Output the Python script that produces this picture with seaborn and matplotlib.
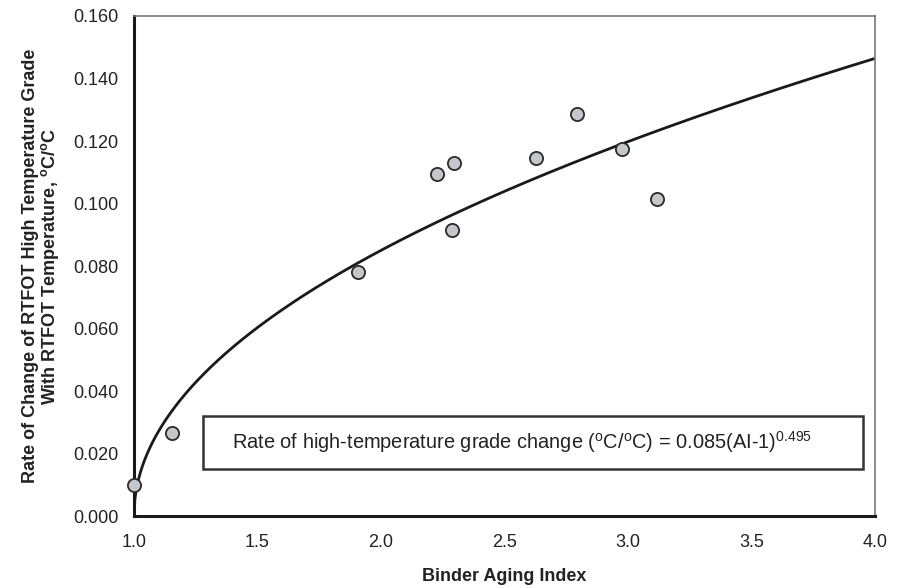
import numpy as np
import pandas as pd
import matplotlib
matplotlib.use("Agg")
import matplotlib.pyplot as plt
import seaborn as sns

# measured points
aging_index = [1.00, 1.155, 1.905, 2.225, 2.295, 2.287, 2.628, 2.795, 2.975, 3.118]
rate_change = [0.0099, 0.0265, 0.0780, 0.1094, 0.1131, 0.0915, 0.1146, 0.1285, 0.1176, 0.1016]

# fitted model stated in the chart: rate = coef * (AI - 1) ^ expo
fit_coef = 0.085
fit_expo = 0.495
x_ticks = [1.0, 1.5, 2.0, 2.5, 3.0, 3.5, 4.0]
y_ticks = [0.000, 0.020, 0.040, 0.060, 0.080, 0.100, 0.120, 0.140, 0.160]

sns.set_theme(style="white")
plt.rcParams['font.family'] = ['Liberation Sans', 'DejaVu Sans']
plt.rcParams['mathtext.fontset'] = 'custom'
plt.rcParams['mathtext.rm'] = 'Liberation Sans'
plt.rcParams['mathtext.it'] = 'Liberation Sans:italic'
plt.rcParams['mathtext.bf'] = 'Liberation Sans:bold'

pts = pd.DataFrame({'AI': aging_index, 'rate': rate_change})
ai_fit = np.linspace(1.0, 4.0, 800)
fit = pd.DataFrame({'AI': ai_fit, 'rate': fit_coef * (ai_fit - 1.0) ** fit_expo})

fig = plt.figure(figsize=(9.01, 5.88), dpi=100)
ax = fig.add_axes([0.1487, 0.1224, 0.8224, 0.8504])

sns.lineplot(data=fit, x='AI', y='rate', ax=ax, color='#1a1a1a', linewidth=2.0, zorder=2)
sns.scatterplot(data=pts, x='AI', y='rate', ax=ax, s=90, color='#c3c6cb',
                edgecolor='#2a2a2a', linewidth=1.3, zorder=3, clip_on=False)

ax.set_xlim(1.0, 4.0)
ax.set_ylim(0.0, 0.160)
ax.set_xticks(x_ticks)
ax.set_xticklabels([f"{v:.1f}" for v in x_ticks])
ax.set_yticks(y_ticks)
ax.set_yticklabels([f"{v:.3f}" for v in y_ticks])
ax.tick_params(axis='both', direction='inout', length=8, width=2, color='#1a1a1a',
               labelsize=13, labelcolor='#222222')
ax.tick_params(axis='x', pad=9)
ax.tick_params(axis='y', pad=7)

for side in ['left', 'bottom']:
    ax.spines[side].set_linewidth(2.2)
    ax.spines[side].set_color('#1a1a1a')
for side in ['top', 'right']:
    ax.spines[side].set_linewidth(1.2)
    ax.spines[side].set_color('#777777')

ax.set_xlabel('Binder Aging Index', fontsize=13, fontweight='bold', color='#222222', labelpad=12)
ax.set_ylabel('Rate of Change of RTFOT High Temperature Grade\nWith RTFOT Temperature, $\\mathbf{^{o}C/^{o}C}$',
              fontsize=13, fontweight='bold', color='#222222', labelpad=9, linespacing=1.0)

box = plt.Rectangle((0.0931, 0.094), 0.8907, 0.106, transform=ax.transAxes,
                    facecolor='white', edgecolor='#333333', linewidth=1.8, zorder=4)
ax.add_patch(box)
ax.text(0.1323, 0.147,
        'Rate of high-temperature grade change ($^{\\rm o}$C/$^{\\rm o}$C) = 0.085(AI-1)$^{0.495}$',
        transform=ax.transAxes, fontsize=14.4, color='#222222', va='center', ha='left', zorder=5)

fig.savefig('out.png', dpi=100)
